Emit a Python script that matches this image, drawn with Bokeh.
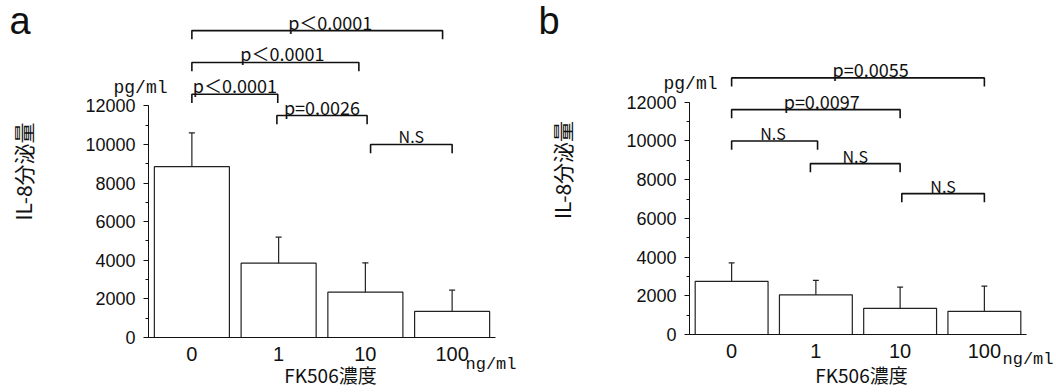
from bokeh.plotting import figure
from bokeh.models import FactorRange, Range1d, SingleIntervalTicker, GridBox
from bokeh.embed import file_html
from bokeh.resources import INLINE
from bokeh.core.properties import value

# ---------------- data ----------------
categories = ["0", "1", "10", "100"]

a_mean = [8850, 3850, 2350, 1350]
a_sd = [1750, 1350, 1520, 1100]
a_pairs = [(0, 3), (0, 2), (0, 1), (1, 2), (2, 3)]
a_labels = ["p＜0.0001", "p＜0.0001", "p＜0.0001", "p=0.0026", "N.S"]
a_levels = [15900, 14250, 12600, 11500, 10000]

b_mean = [2750, 2050, 1350, 1200]
b_sd = [950, 750, 1100, 1300]
b_pairs = [(0, 3), (0, 2), (0, 1), (1, 2), (2, 3)]
b_labels = ["p=0.0055", "p=0.0097", "N.S", "N.S", "N.S"]
b_levels = [13260, 11620, 10000, 8830, 7280]

panel_letters = ["a", "b"]
x_title = "FK506濃度"
y_title = "IL-8分泌量"
y_unit = "pg/ml"
x_unit = "ng/ml"

# ---------------- styles ----------------
NUM_FONT = "Liberation Sans"
CJK = "Noto Sans CJK JP"
MONO = "Liberation Mono"
INK = "#111111"
H = 390

style_a = dict(y_end=17200, fig_w=535, bl=148, br=40, bt=5, bb=53, ylab_standoff=44,
               end_off=[(0, -0.11), (0, -0.075), (0, -0.01), (-0.02, 0.02), (0.06, 0)],
               txt_off=[0.15, 0.08, 0.0, 0.0, 0.0])
style_b = dict(y_end=17000, fig_w=521, bl=154, br=30, bt=5, bb=56, ylab_standoff=46,
               end_off=[(0, 0), (0, 0), (0, 0.02), (-0.065, 0), (0.02, 0)],
               txt_off=[0.15, 0.07, -0.02, 0.0, 0.0])


def panel(mean, sd, pairs, labels, levels, st):
    p = figure(width=st["fig_w"], height=H,
               x_range=FactorRange(factors=categories, range_padding=0),
               y_range=Range1d(0, st["y_end"]),
               output_backend="svg", toolbar_location=None,
               min_border_left=st["bl"], min_border_right=st["br"],
               min_border_top=st["bt"], min_border_bottom=st["bb"])
    p.frame_align = False
    p.outline_line_color = None
    p.xgrid.visible = False
    p.ygrid.visible = False

    # bars
    p.vbar(x=categories, top=mean, width=0.865, fill_color="white",
           line_color="#222222", line_width=1.2)

    # error bars (upper only)
    xi = [i + 0.5 for i in range(len(categories))]
    tops = [m + s for m, s in zip(mean, sd)]
    p.segment(x0=xi, y0=mean, x1=xi, y1=tops, line_color="#222222", line_width=1.2)
    p.segment(x0=[x - 0.035 for x in xi], y0=tops, x1=[x + 0.035 for x in xi], y1=tops,
              line_color="#222222", line_width=1.2)

    # significance brackets
    drop = 450
    xs, ys, tx = [], [], []
    for (i, j), lev, (o0, o1), to in zip(pairs, levels, st["end_off"], st["txt_off"]):
        x0 = i + 0.5 + o0
        x1 = j + 0.5 + o1
        xs.append([x0, x0, x1, x1])
        ys.append([lev - drop, lev, lev, lev - drop])
        tx.append((x0 + x1) / 2 + to)
    p.multi_line(xs=xs, ys=ys, line_color=INK, line_width=1.6)
    small = [t == "N.S" for t in labels]
    p.text(x=tx, y=levels, text=labels, text_font=value(CJK),
           text_font_size=["16px" if s else "18px" for s in small],
           y_offset=[-8 if s else -9 for s in small],
           text_align="center", text_baseline="middle", text_color=INK)

    # axes
    ya = p.yaxis[0]
    ya.ticker = SingleIntervalTicker(interval=2000, num_minor_ticks=2)
    ya.bounds = (0, 12000)
    ya.major_tick_out = 5
    ya.major_tick_in = 0
    ya.minor_tick_out = 3
    ya.minor_tick_in = 0
    ya.major_label_standoff = 8
    ya.major_label_text_font = NUM_FONT
    ya.major_label_text_font_size = "18px"
    ya.major_label_text_color = INK
    ya.axis_line_color = INK
    ya.major_tick_line_color = INK
    ya.minor_tick_line_color = INK
    ya.axis_label = y_title
    ya.axis_label_text_font = CJK
    ya.axis_label_text_font_size = "21px"
    ya.axis_label_text_font_style = "normal"
    ya.axis_label_text_color = INK
    ya.axis_label_standoff = st["ylab_standoff"]

    xa = p.xaxis[0]
    xa.axis_label = None
    xa.major_tick_out = 0
    xa.major_tick_in = 0
    xa.minor_tick_out = 0
    xa.major_label_standoff = 9
    xa.major_label_text_font = NUM_FONT
    xa.major_label_text_font_size = "20px"
    xa.major_label_text_color = INK
    xa.axis_line_color = INK
    xa.axis_line_width = 1.2
    return p


pa = panel(a_mean, a_sd, a_pairs, a_labels, a_levels, style_a)
pb = panel(b_mean, b_sd, b_pairs, b_labels, b_levels, style_b)

# transparent overlay (page pixel coordinates) for the free texts outside the frames
W = style_a["fig_w"] + style_b["fig_w"]
ov = figure(width=W, height=H, x_range=Range1d(0, W), y_range=Range1d(H, 0),
            output_backend="svg", toolbar_location=None, min_border=0,
            x_axis_location=None, y_axis_location=None)
ov.frame_align = False
ov.xgrid.visible = False
ov.ygrid.visible = False
ov.outline_line_color = None
ov.background_fill_color = None
ov.border_fill_color = None

ov.text(x=[9, 538], y=[20, 20], text=panel_letters,
        text_font=value("Liberation Sans Narrow, Liberation Sans"), text_font_size="38px",
        text_align="left", text_baseline="middle", text_color=INK)
ov.text(x=[140, 690], y=[87, 83], text=[y_unit, y_unit], text_font=value(MONO),
        text_font_size="18px", text_align="center", text_baseline="middle", text_color=INK)
ov.text(x=[465, 1002], y=[364, 359], text=[x_unit, x_unit], text_font=value(MONO),
        text_font_size="17px", text_align="left", text_baseline="middle", text_color=INK)
ov.text(x=[330, 861], y=[374, 374], text=[x_title, x_title], text_font=value(CJK),
        text_font_size="19px", text_align="center", text_baseline="middle", text_color=INK)

layout = GridBox(children=[(pa, 0, 0), (pb, 0, 1), (ov, 0, 0, 1, 2)], spacing=0)

open("out.html", "w").write(file_html(layout, INLINE))
